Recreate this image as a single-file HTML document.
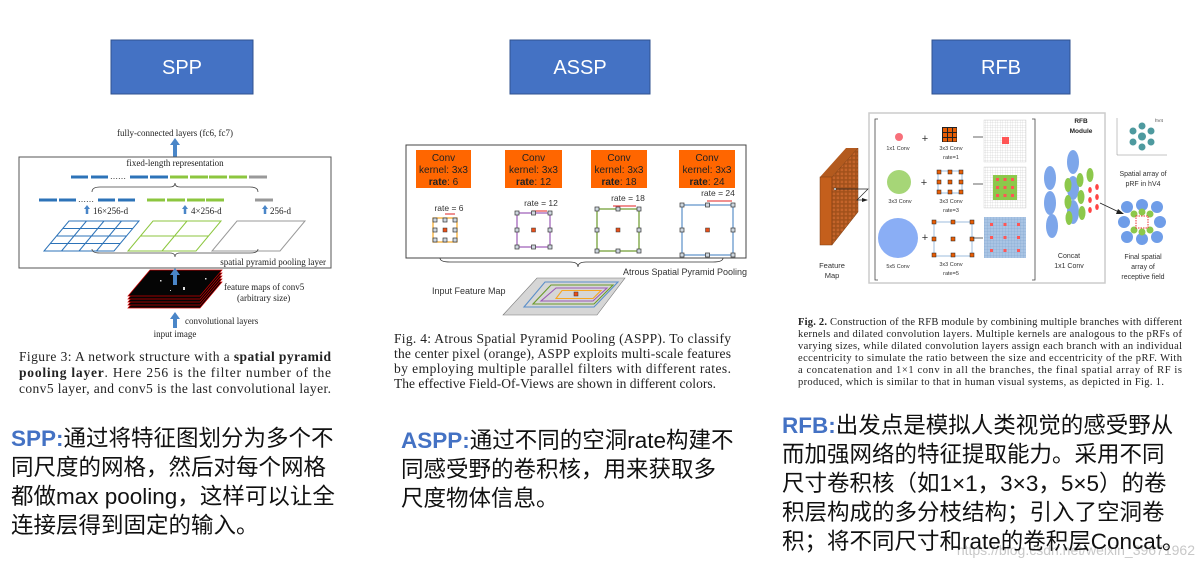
<!DOCTYPE html>
<html><head><meta charset="utf-8"><style>
html,body{margin:0;padding:0;background:#fff;}
body{width:1204px;height:568px;overflow:hidden;position:relative;}
svg{position:absolute;left:0;top:0;}
.cn{position:absolute;font-family:"Liberation Sans","Noto Sans CJK SC",sans-serif;font-size:22.5px;line-height:29px;color:#111;white-space:nowrap;}
.cn b{color:#4472C4;}
</style></head><body>
<svg width="1204" height="568" viewBox="0 0 1204 568" xmlns="http://www.w3.org/2000/svg">
<defs>
<pattern id="fg" width="2.5" height="2.5" patternUnits="userSpaceOnUse"><path d="M0 0H2.5M0 0V2.5" stroke="#bbb" stroke-width="0.4" fill="none"/></pattern>
<pattern id="bg" width="3" height="3" patternUnits="userSpaceOnUse"><rect width="3" height="3" fill="#a9c4e4"/><path d="M0 0H3M0 0V3" stroke="#7fa3cf" stroke-width="0.5" fill="none"/></pattern>
<pattern id="br" width="4" height="4" patternUnits="userSpaceOnUse"><rect width="4" height="4" fill="#a0501a"/><rect x="0.6" y="0.6" width="2.6" height="2.6" fill="#c4642a"/></pattern>
</defs>
<g font-family="Liberation Sans, sans-serif" font-size="20" fill="#fff" text-anchor="middle">
<rect x="111" y="40" width="142" height="54" fill="#4472C4" stroke="#2F528F"/>
<text x="182" y="74">SPP</text>
<rect x="510" y="40" width="140" height="54" fill="#4472C4" stroke="#2F528F"/>
<text x="580" y="74">ASSP</text>
<rect x="932" y="40" width="138" height="54" fill="#4472C4" stroke="#2F528F"/>
<text x="1001" y="74">RFB</text>
</g>

<g font-family="Liberation Serif, serif" fill="#222">
<text x="175" y="136" font-size="9" text-anchor="middle">fully-connected layers (fc6, fc7)</text>
<path d="M175 157V144" stroke="#4a86c8" stroke-width="4"/><path d="M170 145L175 138L180 145Z" fill="#4a86c8"/>
<rect x="19" y="157" width="312" height="111" fill="none" stroke="#555" stroke-width="1"/>
<text x="175" y="166" font-size="9" text-anchor="middle">fixed-length representation</text>
<g stroke-width="3">
<path d="M71 177H88M91 177H108M130 177H148M150 177H168" stroke="#2d73b8"/>
<path d="M170 177H188M190 177H208M209 177H227M229 177H247" stroke="#8cc63f"/>
<path d="M249 177H267" stroke="#999"/>
<path d="M39 200H57M59 200H76M98 200H115M118 200H135" stroke="#2d73b8"/>
<path d="M147 200H165M167 200H185M187 200H205M206 200H224" stroke="#8cc63f"/>
<path d="M255 200H273" stroke="#999"/>
</g>
<text x="110" y="179" font-size="8">……</text><text x="78" y="202" font-size="8">……</text>
<path d="M92 192Q92 187 100 187H170Q175 187 175 183Q175 187 180 187H250Q258 187 258 192" fill="none" stroke="#444" stroke-width="0.8"/>
<g fill="#4a86c8"><path d="M87 214V208M185 214V208M265 214V208" stroke="#4a86c8" stroke-width="2.5"/>
<path d="M84 209L87 205L90 209ZM182 209L185 205L188 209ZM262 209L265 205L268 209Z"/></g>
<text x="93" y="214" font-size="9">16×256-d</text><text x="191" y="214" font-size="9">4×256-d</text><text x="270" y="214" font-size="9">256-d</text>
<g fill="none" stroke-width="1">
<path d="M69 221H139L114 251H44Z M86.5 221L61.5 251M104 221L79 251M121.5 221L96.5 251M62.75 228.5H132.75M56.5 236H126.5M50.25 243.5H120.25" stroke="#2d73b8"/>
<path d="M153 221H221L196 251H128Z M187 221L162 251M140.5 236H208.5" stroke="#8cc63f"/>
<path d="M237 221H305L280 251H212Z" stroke="#999"/>
</g>
<path d="M92 249Q92 253 100 253H170Q175 253 175 257Q175 253 180 253H250Q258 253 258 249" fill="none" stroke="#444" stroke-width="0.8"/>
<text x="326" y="265" font-size="9" text-anchor="end">spatial pyramid pooling layer</text>
<g stroke="#c00" stroke-width="0.7" fill="#050505">
<path d="M150 282H222L200 308H128Z"/><path d="M150 279H222L200 305H128Z"/><path d="M150 276H222L200 302H128Z"/><path d="M150 273H222L200 299H128Z"/><path d="M150 270H222L200 296H128Z"/>
</g>
<g fill="#ddd"><rect x="160" y="280" width="1.5" height="1.5"/><rect x="183" y="287" width="2" height="3"/><rect x="205" y="278" width="1.5" height="1.5"/><rect x="170" y="290" width="1" height="1"/></g>
<path d="M175 285V274" stroke="#4a86c8" stroke-width="4"/><path d="M170 275L175 268L180 275Z" fill="#4a86c8"/>
<text x="224" y="290" font-size="9">feature maps of conv5</text>
<text x="237" y="301" font-size="9">(arbitrary size)</text>
<path d="M175 328V318" stroke="#4a86c8" stroke-width="4"/><path d="M170 319L175 312L180 319Z" fill="#4a86c8"/>
<text x="185" y="324" font-size="9">convolutional layers</text>
<text x="175" y="337" font-size="9" text-anchor="middle">input image</text>
<g font-size="13.5">
<text x="19" y="361" textLength="312">Figure 3: A network structure with a <tspan font-weight="bold">spatial pyramid</tspan></text>
<text x="19" y="377" textLength="312"><tspan font-weight="bold">pooling layer</tspan>. Here 256 is the filter number of the</text>
<text x="19" y="393" textLength="312">conv5 layer, and conv5 is the last convolutional layer.</text>
</g>
</g>

<g font-family="Liberation Sans, sans-serif">
<rect x="406" y="145" width="340" height="113" fill="none" stroke="#444"/>
<g fill="#ff6600"><rect x="416" y="150" width="55" height="38"/><rect x="505" y="150" width="57" height="38"/><rect x="591" y="150" width="56" height="38"/><rect x="679" y="150" width="56" height="38"/></g>
<g font-size="10" fill="#222" text-anchor="middle">
<text x="443.5" y="161">Conv</text><text x="443.5" y="173">kernel: 3x3</text><text x="443.5" y="185"><tspan font-weight="bold">rate</tspan>: 6</text>
<text x="533.5" y="161">Conv</text><text x="533.5" y="173">kernel: 3x3</text><text x="533.5" y="185"><tspan font-weight="bold">rate</tspan>: 12</text>
<text x="619" y="161">Conv</text><text x="619" y="173">kernel: 3x3</text><text x="619" y="185"><tspan font-weight="bold">rate</tspan>: 18</text>
<text x="707" y="161">Conv</text><text x="707" y="173">kernel: 3x3</text><text x="707" y="185"><tspan font-weight="bold">rate</tspan>: 24</text>
</g>
<g font-size="8.5" fill="#333" text-anchor="middle">
<text x="449" y="211">rate = 6</text><text x="541" y="206">rate = 12</text><text x="628" y="201">rate = 18</text><text x="718" y="196">rate = 24</text>
</g>
<g stroke="#e02020" stroke-width="1">
<path d="M445 214H455M532 211H547M613 206H636M707 201H732"/>
</g>
<g fill="none" stroke-width="1.2">
<rect x="433" y="218" width="24" height="24" stroke="#f5a623"/>
<rect x="517" y="213" width="33" height="34" stroke="#9b59b6"/>
<rect x="597" y="209" width="42" height="42" stroke="#6a9a2a"/>
<rect x="682" y="205" width="51" height="50" stroke="#5b8fc9"/>
</g>
<g fill="#cfd8e0" stroke="#333" stroke-width="0.7">
<rect x="433" y="218" width="4" height="4"/><rect x="443" y="218" width="4" height="4"/><rect x="453" y="218" width="4" height="4"/>
<rect x="433" y="228" width="4" height="4"/><rect x="453" y="228" width="4" height="4"/>
<rect x="433" y="238" width="4" height="4"/><rect x="443" y="238" width="4" height="4"/><rect x="453" y="238" width="4" height="4"/>
<rect x="515" y="211" width="4" height="4"/><rect x="531.5" y="211" width="4" height="4"/><rect x="548" y="211" width="4" height="4"/>
<rect x="515" y="228" width="4" height="4"/><rect x="548" y="228" width="4" height="4"/>
<rect x="515" y="245" width="4" height="4"/><rect x="531.5" y="245" width="4" height="4"/><rect x="548" y="245" width="4" height="4"/>
<rect x="595" y="207" width="4" height="4"/><rect x="616" y="207" width="4" height="4"/><rect x="637" y="207" width="4" height="4"/>
<rect x="595" y="228" width="4" height="4"/><rect x="637" y="228" width="4" height="4"/>
<rect x="595" y="249" width="4" height="4"/><rect x="616" y="249" width="4" height="4"/><rect x="637" y="249" width="4" height="4"/>
<rect x="680" y="203" width="4" height="4"/><rect x="705.5" y="203" width="4" height="4"/><rect x="731" y="203" width="4" height="4"/>
<rect x="680" y="228" width="4" height="4"/><rect x="731" y="228" width="4" height="4"/>
<rect x="680" y="253" width="4" height="4"/><rect x="705.5" y="253" width="4" height="4"/><rect x="731" y="253" width="4" height="4"/>
</g>
<g fill="#e8501a" stroke="#333" stroke-width="0.5">
<rect x="443" y="228" width="4" height="4"/><rect x="531.5" y="228" width="4" height="4"/><rect x="616" y="228" width="4" height="4"/><rect x="705.5" y="228" width="4" height="4"/>
</g>
<path d="M440 258Q440 262 450 262H570Q578 262 578 267Q578 262 586 262H713Q723 262 723 258" fill="none" stroke="#333" stroke-width="0.8"/>
<text x="623" y="275" font-size="9" fill="#333">Atrous Spatial Pyramid Pooling</text>
<text x="432" y="294" font-size="9" fill="#333">Input Feature Map</text>
<path d="M537 278H625L597 315H503Z" fill="#d6d6d6" stroke="#777" stroke-width="0.6"/>
<path d="M545 282H618L594 307H524Z" fill="none" stroke="#5b8fc9" stroke-width="1.1"/>
<path d="M551 285H613L594 304H533Z" fill="none" stroke="#6a9a2a" stroke-width="1.1"/>
<path d="M556 288H607L593 301H541Z" fill="none" stroke="#9b59b6" stroke-width="1.1"/>
<path d="M562 290.5H601L593 298.5H556Z" fill="none" stroke="#f5a623" stroke-width="1.1"/>
<rect x="574" y="292" width="4" height="4" fill="#e8501a" stroke="#333" stroke-width="0.5"/>
<g font-family="Liberation Serif, serif" font-size="13.5" fill="#222">
<text x="394" y="343" textLength="337">Fig. 4: Atrous Spatial Pyramid Pooling (ASPP). To classify</text>
<text x="394" y="358" textLength="337">the center pixel (orange), ASPP exploits multi-scale features</text>
<text x="394" y="373" textLength="337">by employing multiple parallel filters with different rates.</text>
<text x="394" y="388" textLength="322">The effective Field-Of-Views are shown in different colors.</text>
</g>
</g>

<g font-family="Liberation Sans, sans-serif">
<rect x="869" y="113" width="236" height="170" fill="none" stroke="#ccc" stroke-width="1.5"/>
<path d="M820 177L846 148H858L832 177Z" fill="#b35a1e"/>
<rect x="820" y="177" width="12" height="68" fill="#c45f1c" stroke="#7a3b10" stroke-width="0.5"/>
<path d="M832 177L858 148V212L832 245Z" fill="url(#br)" stroke="#7a3b10" stroke-width="0.5"/>
<rect x="834" y="188" width="2" height="2" fill="#fff" stroke="#333" stroke-width="0.4"/>
<path d="M836 189H868L857 200H867" fill="none" stroke="#222" stroke-width="0.7"/>
<path d="M862 198L868 200L862 202" fill="#222"/>
<text x="832" y="268" font-size="7.5" fill="#333" text-anchor="middle">Feature</text>
<text x="832" y="278" font-size="7.5" fill="#333" text-anchor="middle">Map</text>
<path d="M878 119H875V280H878M1032 119H1035V280H1032" fill="none" stroke="#444" stroke-width="0.8"/>
<g fill="#333" font-size="5.5" text-anchor="middle">
<text x="898" y="150">1x1 Conv</text><text x="951" y="150">3x3 Conv</text><text x="951" y="159">rate=1</text>
<text x="900" y="203">3x3 Conv</text><text x="951" y="203">3x3 Conv</text><text x="951" y="212">rate=3</text>
<text x="898" y="268">5x5 Conv</text><text x="951" y="266">3x3 Conv</text><text x="951" y="275">rate=5</text>
</g>
<g fill="#333" font-size="11" text-anchor="middle"><text x="925" y="142">+</text><text x="924" y="186">+</text><text x="925" y="241">+</text></g>
<circle cx="899" cy="137" r="4" fill="#f7707a"/>
<circle cx="899" cy="182" r="12" fill="#a6d677"/>
<circle cx="898" cy="238" r="20" fill="#8aaef5"/>
<rect x="942" y="127" width="15" height="15" fill="#222"/>
<g fill="#e85d04"><rect x="943" y="128" width="4" height="4"/><rect x="948" y="128" width="4" height="4"/><rect x="953" y="128" width="3.5" height="4"/><rect x="943" y="133" width="4" height="4"/><rect x="948" y="133" width="4" height="4"/><rect x="953" y="133" width="3.5" height="4"/><rect x="943" y="138" width="4" height="3.5"/><rect x="948" y="138" width="4" height="3.5"/><rect x="953" y="138" width="3.5" height="3.5"/></g>
<rect x="938" y="171" width="24" height="22" fill="none" stroke="#5b8fc9" stroke-width="0.6"/>
<rect x="934" y="222" width="38" height="34" fill="none" stroke="#5b8fc9" stroke-width="0.6"/>
<g fill="#e85d04" stroke="#222" stroke-width="0.5">
<rect x="937" y="170" width="4" height="4"/><rect x="948" y="170" width="4" height="4"/><rect x="959" y="170" width="4" height="4"/>
<rect x="937" y="180" width="4" height="4"/><rect x="948" y="180" width="4" height="4"/><rect x="959" y="180" width="4" height="4"/>
<rect x="937" y="190" width="4" height="4"/><rect x="948" y="190" width="4" height="4"/><rect x="959" y="190" width="4" height="4"/>
<rect x="932" y="220" width="4" height="4"/><rect x="951" y="220" width="4" height="4"/><rect x="970" y="220" width="4" height="4"/>
<rect x="932" y="237" width="4" height="4"/><rect x="951" y="237" width="4" height="4"/><rect x="970" y="237" width="4" height="4"/>
<rect x="932" y="253" width="4" height="4"/><rect x="951" y="253" width="4" height="4"/><rect x="970" y="253" width="4" height="4"/>
</g>
<path d="M973 137H983M973 184H983M973 238H983" stroke="#333" stroke-width="0.8"/>
<rect x="984" y="120" width="42" height="42" fill="url(#fg)" stroke="#ccc" stroke-width="0.4"/>
<rect x="1002" y="137" width="7" height="7" fill="#f55"/>
<rect x="984" y="167" width="42" height="41" fill="url(#fg)" stroke="#ccc" stroke-width="0.4"/>
<rect x="993" y="175" width="24" height="25" fill="#8cc84b"/>
<g fill="#f55"><rect x="996" y="178" width="3" height="3"/><rect x="1003.5" y="178" width="3" height="3"/><rect x="1011" y="178" width="3" height="3"/><rect x="996" y="186" width="3" height="3"/><rect x="1003.5" y="186" width="3" height="3"/><rect x="1011" y="186" width="3" height="3"/><rect x="996" y="194" width="3" height="3"/><rect x="1003.5" y="194" width="3" height="3"/><rect x="1011" y="194" width="3" height="3"/></g>
<rect x="984" y="217" width="42" height="41" fill="url(#bg)"/>
<g fill="#f55"><rect x="990" y="223" width="3" height="3"/><rect x="1003.5" y="223" width="3" height="3"/><rect x="1017" y="223" width="3" height="3"/><rect x="990" y="236" width="3" height="3"/><rect x="1003.5" y="236" width="3" height="3"/><rect x="1017" y="236" width="3" height="3"/><rect x="990" y="249" width="3" height="3"/><rect x="1003.5" y="249" width="3" height="3"/><rect x="1017" y="249" width="3" height="3"/></g>
<text x="1081" y="123" font-size="6.5" font-weight="bold" fill="#222" text-anchor="middle">RFB</text>
<text x="1081" y="133" font-size="6.5" font-weight="bold" fill="#222" text-anchor="middle">Module</text>
<g fill="#6f9de8" opacity="0.9">
<ellipse cx="1050" cy="178" rx="6" ry="12"/><ellipse cx="1073" cy="162" rx="6" ry="12"/><ellipse cx="1050" cy="203" rx="6" ry="12"/><ellipse cx="1052" cy="226" rx="6" ry="12"/><ellipse cx="1073" cy="188" rx="6" ry="12"/><ellipse cx="1073" cy="212" rx="6" ry="12"/>
</g>
<g fill="#8cc84b"><ellipse cx="1068" cy="185" rx="3.5" ry="7"/><ellipse cx="1068" cy="202" rx="3.5" ry="7"/><ellipse cx="1069" cy="218" rx="3.5" ry="7"/><ellipse cx="1080" cy="180" rx="3.5" ry="7"/><ellipse cx="1081" cy="197" rx="3.5" ry="7"/><ellipse cx="1082" cy="213" rx="3.5" ry="7"/><ellipse cx="1090" cy="175" rx="3.5" ry="7"/></g>
<g fill="#f44"><ellipse cx="1090" cy="190" rx="1.8" ry="3"/><ellipse cx="1097" cy="187" rx="1.8" ry="3"/><ellipse cx="1090" cy="200" rx="1.8" ry="3"/><ellipse cx="1097" cy="197" rx="1.8" ry="3"/><ellipse cx="1090" cy="210" rx="1.8" ry="3"/><ellipse cx="1097" cy="207" rx="1.8" ry="3"/></g>
<text x="1069" y="258" font-size="7" fill="#333" text-anchor="middle">Concat</text>
<text x="1069" y="268" font-size="7" fill="#333" text-anchor="middle">1x1 Conv</text>
<path d="M1100 203L1121 213" stroke="#222" stroke-width="0.8"/><path d="M1118 209L1124 214L1116 214Z" fill="#222"/>
<path d="M1117 118V155H1167" fill="none" stroke="#888" stroke-width="0.5"/>
<g fill="#4e9a9f"><circle cx="1142" cy="126" r="3.5"/><circle cx="1133" cy="131" r="3.5"/><circle cx="1151" cy="131" r="3.5"/><circle cx="1133" cy="142" r="3.5"/><circle cx="1151" cy="142" r="3.5"/><circle cx="1142" cy="147" r="3.5"/><circle cx="1142" cy="136.5" r="4"/></g>
<text x="1155" y="122" font-size="4.5" fill="#444">hV4</text>
<text x="1143" y="176" font-size="7" fill="#333" text-anchor="middle">Spatial array of</text>
<text x="1143" y="186" font-size="7" fill="#333" text-anchor="middle">pRF in hV4</text>
<g fill="#6f9de8"><circle cx="1127" cy="207" r="6"/><circle cx="1142" cy="205" r="6"/><circle cx="1157" cy="207" r="6"/><circle cx="1124" cy="222" r="6"/><circle cx="1160" cy="222" r="6"/><circle cx="1127" cy="237" r="6"/><circle cx="1142" cy="239" r="6"/><circle cx="1157" cy="237" r="6"/></g>
<g fill="#8cc84b"><circle cx="1134" cy="214" r="3.5"/><circle cx="1150" cy="214" r="3.5"/><circle cx="1134" cy="230" r="3.5"/><circle cx="1150" cy="230" r="3.5"/><circle cx="1142" cy="212" r="3.5"/><circle cx="1142" cy="232" r="3.5"/></g>
<rect x="1136" y="216" width="12" height="12" fill="#fff" stroke="#e33" stroke-dasharray="1.5 1" stroke-width="1"/>
<text x="1143" y="259" font-size="7" fill="#333" text-anchor="middle">Final spatial</text>
<text x="1143" y="269" font-size="7" fill="#333" text-anchor="middle">array of</text>
<text x="1143" y="279" font-size="7" fill="#333" text-anchor="middle">receptive field</text>
<g font-family="Liberation Serif, serif" font-size="10.5" fill="#222">
<text x="798" y="325" textLength="384"><tspan font-weight="bold">Fig. 2.</tspan> Construction of the RFB module by combining multiple branches with different</text>
<text x="798" y="337" textLength="384">kernels and dilated convolution layers. Multiple kernels are analogous to the pRFs of</text>
<text x="798" y="349" textLength="384">varying sizes, while dilated convolution layers assign each branch with an individual</text>
<text x="798" y="361" textLength="384">eccentricity to simulate the ratio between the size and eccentricity of the pRF. With</text>
<text x="798" y="373" textLength="384">a concatenation and 1×1 conv in all the branches, the final spatial array of RF is</text>
<text x="798" y="385" textLength="366">produced, which is similar to that in human visual systems, as depicted in Fig. 1.</text>
</g>
</g>
<text x="1195" y="555" font-family="Liberation Sans, sans-serif" font-size="14" fill="#c8c8c8" text-anchor="end">https://blog.csdn.net/weixin_39671962</text>
</svg>

<div class="cn" style="left:11px;top:424px;"><b>SPP:</b>通过将特征图划分为多个不<br>同尺度的网格，然后对每个网格<br>都做max pooling，这样可以让全<br>连接层得到固定的输入。</div>
<div class="cn" style="left:401px;top:426px;"><b>ASPP:</b>通过不同的空洞rate构建不<br>同感受野的卷积核，用来获取多<br>尺度物体信息。</div>
<div class="cn" style="left:782px;top:411px;"><b>RFB:</b>出发点是模拟人类视觉的感受野从<br>而加强网络的特征提取能力。采用不同<br>尺寸卷积核（如1×1，3×3，5×5）的卷<br>积层构成的多分枝结构；引入了空洞卷<br>积；将不同尺寸和rate的卷积层Concat。</div>
</body></html>
